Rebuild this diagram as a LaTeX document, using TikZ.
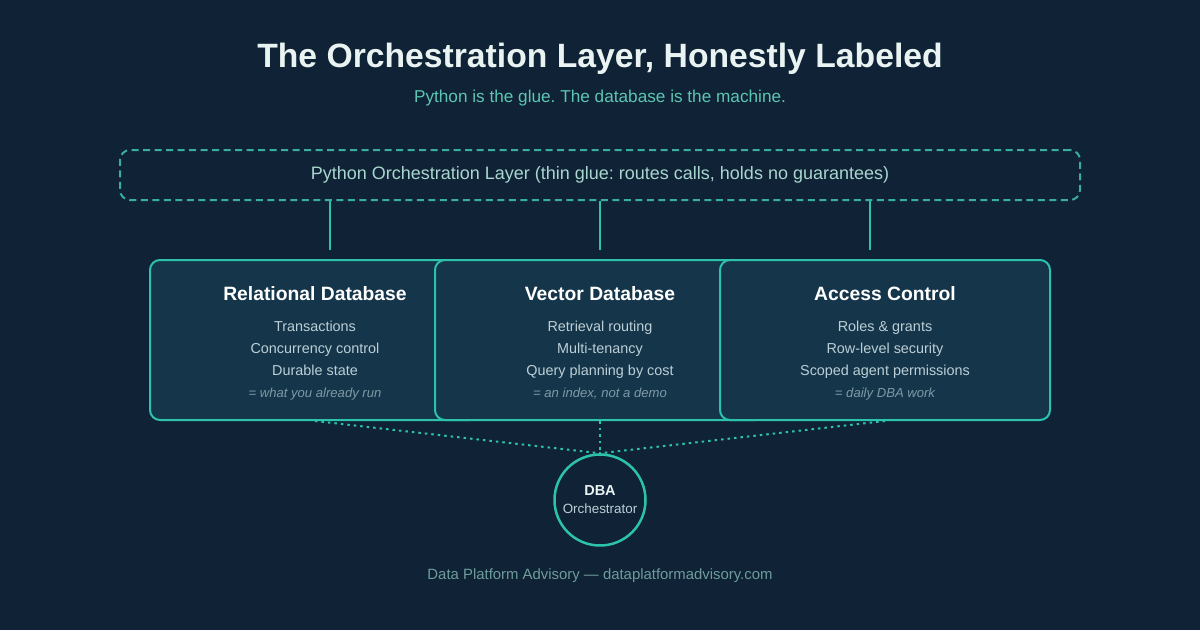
\documentclass[tikz,border=0pt]{standalone}
\usepackage{fontspec}
\setmainfont{Liberation Sans}
\usepackage{tikz}
\usetikzlibrary{positioning, calc}
\definecolor{bgnavy}{HTML}{0F2236}
\definecolor{boxfill}{HTML}{15354A}
\definecolor{tealline}{HTML}{2CC2AC}
\definecolor{tealdash}{HTML}{3AAE9E}
\definecolor{titlec}{HTML}{E9F4F2}
\definecolor{subc}{HTML}{5CC6B2}
\definecolor{layerc}{HTML}{A9D6CE}
\definecolor{itemc}{HTML}{BCCFD6}
\definecolor{notec}{HTML}{7E9AA6}
\definecolor{footc}{HTML}{6E9C9C}
\newcommand{\boxnote}[1]{{\fontsize{13.1}{22}\selectfont\itshape\color{notec}#1}}
\frenchspacing

\begin{document}
\begin{tikzpicture}[
  x=1pt, y=-1pt,
  dbbox/.style={draw=tealline, line width=2pt, rounded corners=10pt, fill=boxfill, minimum width=330pt, minimum height=160pt, inner sep=0pt},
  boxtitle/.style={font=\fontsize{19.3}{22}\selectfont\bfseries, text=white, inner sep=0pt},
  items/.style={font=\fontsize{14.4}{22}\selectfont, text=itemc, align=center, inner sep=0pt},
  glue/.style={draw=tealline, line width=2pt},
  tie/.style={draw=tealline, line width=2pt, dash pattern=on 2.5pt off 4pt}
]
\useasboundingbox[fill=bgnavy] (0,0) rectangle (1200,630);

\node[font=\fontsize{33.7}{38}\selectfont\bfseries, text=titlec] (title) at (600,59) {The Orchestration Layer, Honestly Labeled};
\node[font=\fontsize{17.2}{20}\selectfont, text=subc] (subtitle) at (600,98) {Python is the glue. The database is the machine.};

\node[draw=tealdash, line width=2pt, dash pattern=on 7pt off 4.5pt, rounded corners=10pt, minimum width=960pt, minimum height=50pt,
  font=\fontsize{18}{20}\selectfont, text=layerc] (layer) at (600,175)
  {Python Orchestration Layer (thin glue: routes calls, holds no guarantees)};

% hooks from the glue layer
\coordinate (hook1) at (330,250);
\coordinate (hook2) at (600,250);
\coordinate (hook3) at (870,250);
\draw[glue] (layer.south -| hook1) -- (hook1);
\draw[glue] (layer.south -| hook2) -- (hook2);
\draw[glue] (layer.south -| hook3) -- (hook3);

% the three engines
\node[dbbox] (reldb) at (315,340) {};
\node[boxtitle, below=27.5pt of reldb.north] (reltitle) {Relational Database};
\node[items, below=19.5pt of reltitle] (relitems) {Transactions\\Concurrency control\\Durable state\\\boxnote{= what you already run}};

\node[dbbox] (vecdb) at (600,340) {};
\node[boxtitle, below=27.5pt of vecdb.north] (vectitle) {Vector Database};
\node[items, below=19.5pt of vectitle] (vecitems) {Retrieval routing\\Multi-tenancy\\Query planning by cost\\\boxnote{= an index, not a demo}};

\node[dbbox] (access) at (885,340) {};
\node[boxtitle, below=27.5pt of access.north] (acctitle) {Access Control};
\node[items, below=19.5pt of acctitle] (accitems) {Roles \& grants\\Row-level security\\Scoped agent permissions\\\boxnote{= daily DBA work}};

% the DBA underneath
\node[circle, draw=tealline, line width=2.5pt, fill=bgnavy, minimum size=91pt, inner sep=0pt, align=center] (dba) at (600,500)
  {{\fontsize{14.5}{17}\selectfont\bfseries\color{titlec}DBA}\\[6pt]{\fontsize{13.4}{15}\selectfont\color{itemc}Orchestrator}};

\draw[tie] (reldb.south) -- (dba.north);
\draw[tie] (vecdb.south) -- (dba.north);
\draw[tie] (access.south) -- (dba.north);

\node[font=\fontsize{14.9}{17}\selectfont, text=footc] (footer) at (600,576) {Data Platform Advisory — dataplatformadvisory.com};
\end{tikzpicture}
\end{document}
